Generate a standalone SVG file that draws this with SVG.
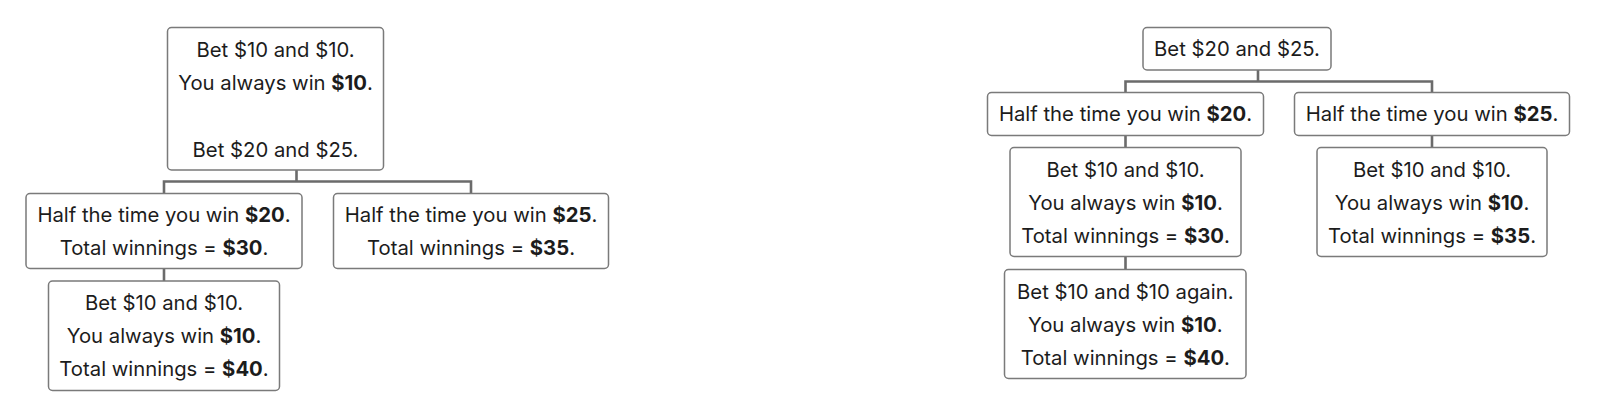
<svg xmlns="http://www.w3.org/2000/svg" width="1600" height="413" viewBox="0 0 1600 413">
<style>
  .box { fill: #ffffff; stroke: #7a7a7a; stroke-width: 1.5; }
  .t { font-family: Inter, "Liberation Sans", Arial, sans-serif; font-size: 20.3px; fill: #1c1c1c; text-anchor: middle; }
  .b { font-weight: 700; }
  .conn { fill: none; stroke: #6b6b6b; stroke-width: 2.6; stroke-linecap: square; }
</style>
<rect width="1600" height="413" fill="#ffffff"/>
<g id="connectors">
  <path class="conn" d="M296.5,170 V181.5 M164,181.5 H471 M164,181.5 V193 M471,181.5 V193 M164,268.5 V281"/>
  <path class="conn" d="M1258,70 V81.5 M1125.5,81.5 H1432 M1125.5,81.5 V92.5 M1432,81.5 V92.5 M1125.5,135.5 V147.5 M1432,135.5 V147.5 M1125.5,256.5 V269.5"/>
</g>
<g id="L-root">
  <rect class="box" x="167.5" y="27.5" width="216" height="142.5" rx="4"/>
  <text class="t" x="275.5" y="56.5">Bet $10 and $10.</text>
  <text class="t" x="275.5" y="89.5">You always win <tspan class="b">$10</tspan>.</text>
  <text class="t" x="275.5" y="156.5">Bet $20 and $25.</text>
</g>
<g id="L-win20">
  <rect class="box" x="26" y="193.5" width="276" height="75" rx="4"/>
  <text class="t" x="164" y="221.5">Half the time you win <tspan class="b">$20</tspan>.</text>
  <text class="t" x="164" y="254.5">Total winnings = <tspan class="b">$30</tspan>.</text>
</g>
<g id="L-win25">
  <rect class="box" x="333.5" y="193.5" width="275" height="75" rx="4"/>
  <text class="t" x="471" y="221.5">Half the time you win <tspan class="b">$25</tspan>.</text>
  <text class="t" x="471" y="254.5">Total winnings = <tspan class="b">$35</tspan>.</text>
</g>
<g id="L-bet10">
  <rect class="box" x="48.5" y="281" width="231" height="109.5" rx="4"/>
  <text class="t" x="164" y="309.5">Bet $10 and $10.</text>
  <text class="t" x="164" y="342.5">You always win <tspan class="b">$10</tspan>.</text>
  <text class="t" x="164" y="375.5">Total winnings = <tspan class="b">$40</tspan>.</text>
</g>
<g id="R-root">
  <rect class="box" x="1143" y="27.5" width="188" height="42.5" rx="4"/>
  <text class="t" x="1237" y="56">Bet $20 and $25.</text>
</g>
<g id="R-win20">
  <rect class="box" x="987.5" y="92.5" width="276" height="43" rx="4"/>
  <text class="t" x="1125.5" y="121">Half the time you win <tspan class="b">$20</tspan>.</text>
</g>
<g id="R-win25">
  <rect class="box" x="1294.5" y="92.5" width="275" height="43" rx="4"/>
  <text class="t" x="1432" y="121">Half the time you win <tspan class="b">$25</tspan>.</text>
</g>
<g id="R-bet10-a">
  <rect class="box" x="1010" y="147.5" width="231" height="109" rx="4"/>
  <text class="t" x="1125.5" y="176.5">Bet $10 and $10.</text>
  <text class="t" x="1125.5" y="209.5">You always win <tspan class="b">$10</tspan>.</text>
  <text class="t" x="1125.5" y="242.5">Total winnings = <tspan class="b">$30</tspan>.</text>
</g>
<g id="R-bet10-b">
  <rect class="box" x="1317" y="147.5" width="230" height="109" rx="4"/>
  <text class="t" x="1432" y="176.5">Bet $10 and $10.</text>
  <text class="t" x="1432" y="209.5">You always win <tspan class="b">$10</tspan>.</text>
  <text class="t" x="1432" y="242.5">Total winnings = <tspan class="b">$35</tspan>.</text>
</g>
<g id="R-again">
  <rect class="box" x="1004.5" y="269.5" width="241.5" height="109" rx="4"/>
  <text class="t" x="1125.3" y="298.5">Bet $10 and $10 again.</text>
  <text class="t" x="1125.3" y="331.5">You always win <tspan class="b">$10</tspan>.</text>
  <text class="t" x="1125.3" y="364.5">Total winnings = <tspan class="b">$40</tspan>.</text>
</g>
</svg>
